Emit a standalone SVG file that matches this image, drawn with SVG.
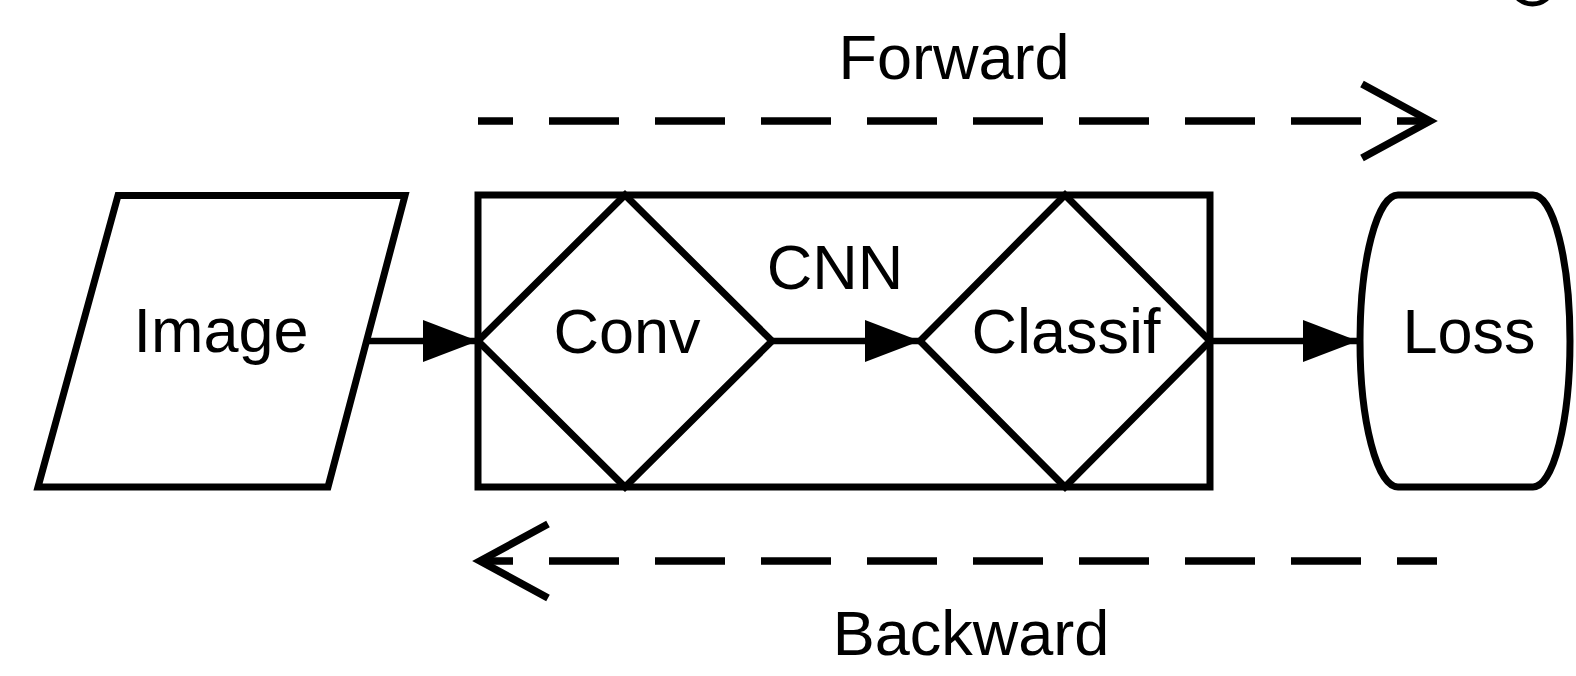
<svg xmlns="http://www.w3.org/2000/svg" width="1576" height="676" viewBox="0 0 1576 676">
<style>
.shape{fill:#fff;stroke:#000;stroke-width:7;stroke-linejoin:miter}
.conn{fill:none;stroke:#000;stroke-width:6.5}
.dash{fill:none;stroke:#000;stroke-width:7.5;stroke-dasharray:70 36}
.lbl{font-family:"Liberation Sans",Arial,sans-serif;font-size:63px;fill:#000;text-anchor:middle}
</style>
<defs>
<marker id="tri" markerUnits="userSpaceOnUse" markerWidth="60" markerHeight="46" refX="55" refY="21" orient="auto" overflow="visible">
<path d="M0,0 L55,21 L0,42 Z" fill="#000"/>
</marker>
<marker id="open" markerUnits="userSpaceOnUse" markerWidth="80" markerHeight="80" refX="68" refY="37" orient="auto" overflow="visible">
<path d="M0,0 L68,37 L0,74" fill="none" stroke="#000" stroke-width="7.5" stroke-linejoin="miter"/>
</marker>
</defs>
<rect width="1576" height="676" fill="#fff"/>
<ellipse cx="1532.5" cy="-10" rx="18" ry="14" fill="none" stroke="#000" stroke-width="5"/>
<g id="cnn">
<rect class="shape" x="478" y="195" width="732" height="292"/>
<text class="lbl" x="835" y="289">CNN</text>
</g>
<g id="image">
<path class="shape" d="M118,195.5 L405,195.5 L328,487 L38,487 Z"/>
<text class="lbl" x="221" y="352">Image</text>
</g>
<g id="conv">
<path class="shape" d="M625,195 L772,341 L625,487 L478,341 Z"/>
<text class="lbl" x="627" y="353">Conv</text>
</g>
<g id="classif">
<path class="shape" d="M1065,195 L1210,341 L1065,487 L920,341 Z"/>
<text class="lbl" x="1066" y="353">Classif</text>
</g>
<g id="loss">
<path class="shape" d="M1398,195 L1533,195 A37,146 0 0 1 1533,487 L1398,487 A38,146 0 0 1 1398,195 Z"/>
<text class="lbl" x="1469" y="353">Loss</text>
</g>
<g id="connectors">
<line class="conn" x1="366" y1="341" x2="478" y2="341" marker-end="url(#tri)"/>
<line class="conn" x1="772" y1="341" x2="920" y2="341" marker-end="url(#tri)"/>
<line class="conn" x1="1210" y1="341" x2="1358" y2="341" marker-end="url(#tri)"/>
<line class="dash" x1="478" y1="121" x2="1430" y2="121" stroke-dashoffset="35" marker-end="url(#open)"/>
<line class="dash" x1="1437" y1="561" x2="480" y2="561" stroke-dashoffset="30" marker-end="url(#open)"/>
<text class="lbl" x="954" y="79">Forward</text>
<text class="lbl" x="971" y="655">Backward</text>
</g>
</svg>
